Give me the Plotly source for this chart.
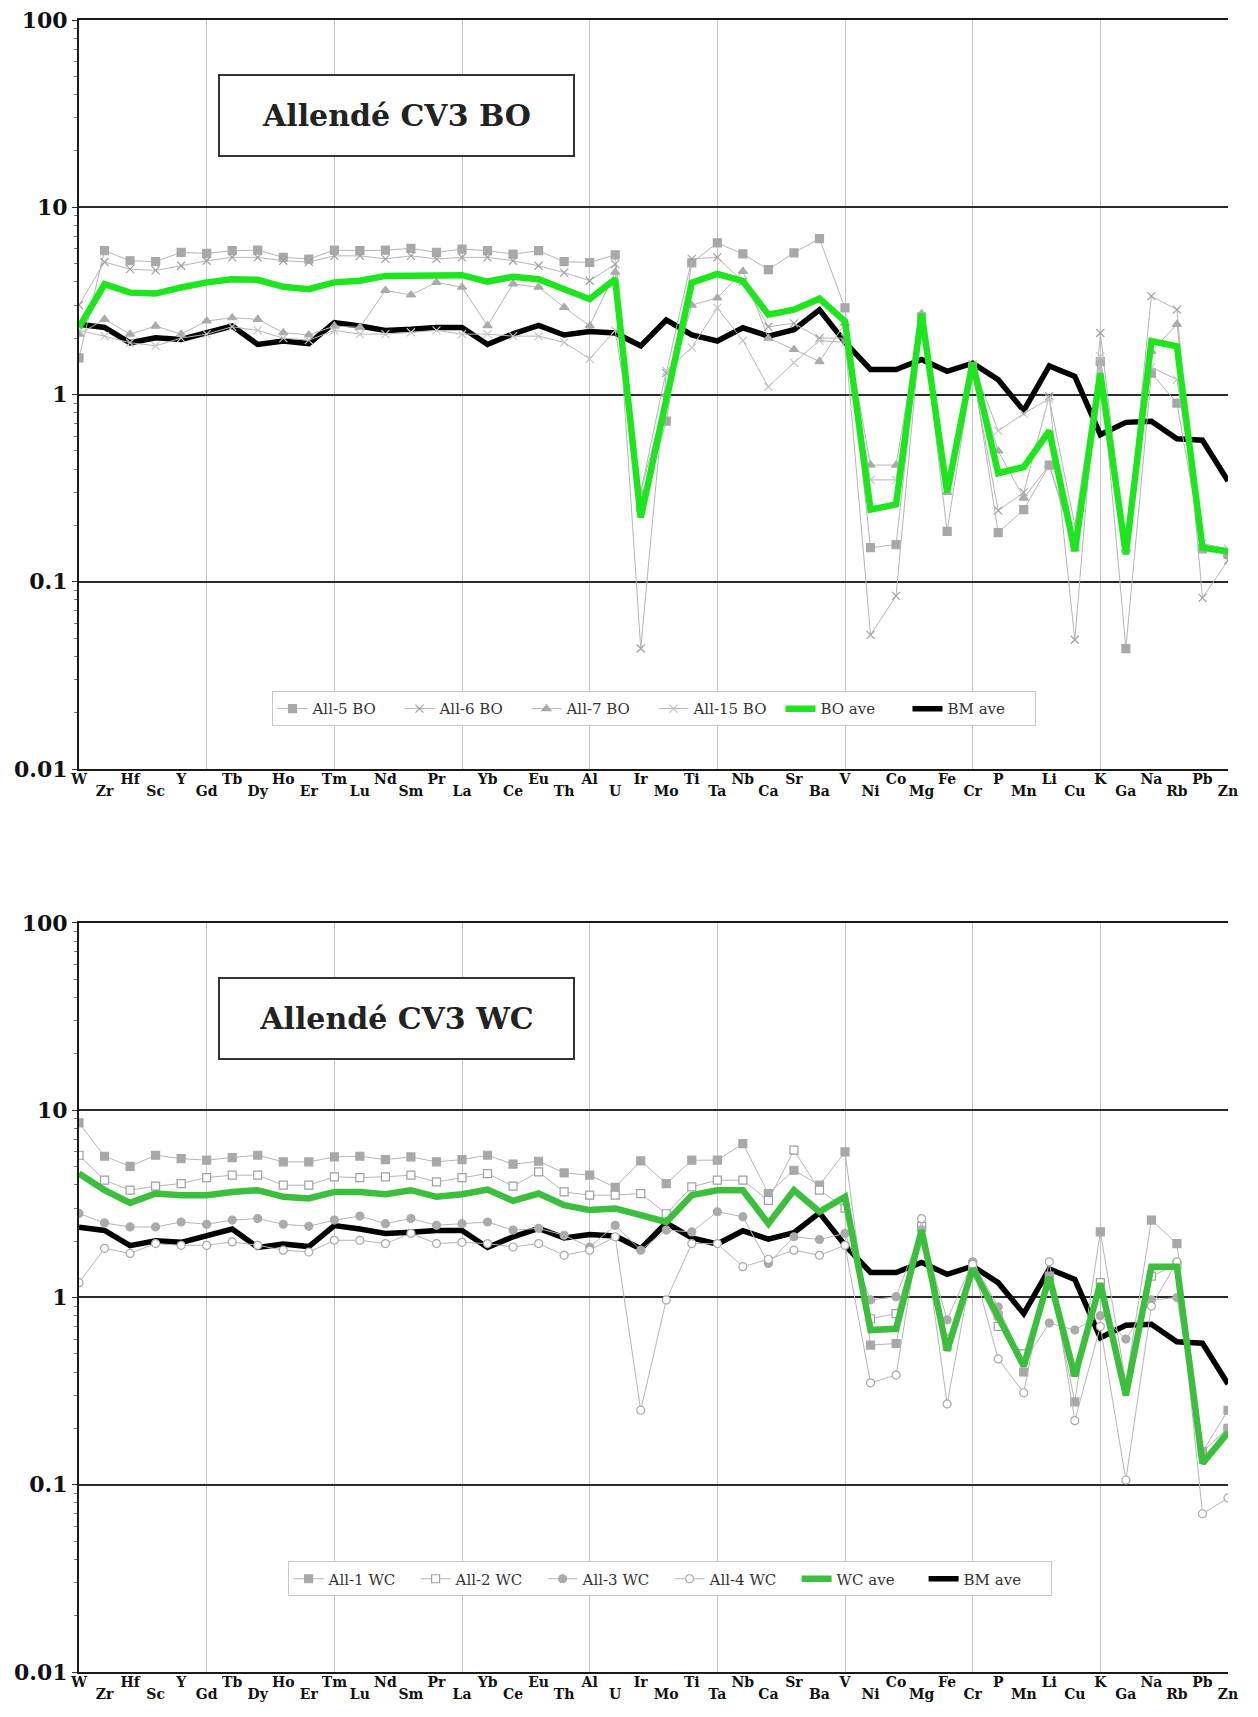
import plotly.graph_objects as go

# Element order along the x axis
elements = ["W", "Zr", "Hf", "Sc", "Y", "Gd", "Tb", "Dy", "Ho", "Er", "Tm", "Lu",
            "Nd", "Sm", "Pr", "La", "Yb", "Ce", "Eu", "Th", "Al", "U", "Ir", "Mo",
            "Ti", "Ta", "Nb", "Ca", "Sr", "Ba", "V", "Ni", "Co", "Mg", "Fe", "Cr",
            "P", "Mn", "Li", "Cu", "K", "Ga", "Na", "Rb", "Pb", "Zn"]

# Bulk-meteorite average (shown in both panels)
bm_ave = [2.37, 2.28, 1.89, 2.01, 1.97, 2.12, 2.32, 1.85, 1.93, 1.87, 2.42, 2.32,
          2.20, 2.23, 2.28, 2.28, 1.85, 2.11, 2.34, 2.08, 2.17, 2.13, 1.82, 2.50,
          2.08, 1.93, 2.27, 2.05, 2.22, 2.83, 1.90, 1.36, 1.36, 1.54, 1.33, 1.47,
          1.20, 0.82, 1.42, 1.25, 0.61, 0.71, 0.72, 0.58, 0.57, 0.345]

# Barred olivine (BO) chondrules
all5_bo = [1.57, 5.86, 5.18, 5.12, 5.74, 5.67, 5.86, 5.90, 5.40, 5.29, 5.90, 5.86,
           5.90, 6.03, 5.74, 5.98, 5.86, 5.62, 5.86, 5.12, 5.07, 5.57, 0.25, 0.72,
           5.05, 6.45, 5.63, 4.65, 5.71, 6.80, 2.90, 0.152, 0.158, 2.60, 0.186, 1.40,
           0.183, 0.243, 0.42, 0.16, 1.50, 0.044, 1.30, 0.90, 0.15, 0.14]
all6_bo = [3.00, 5.10, 4.67, 4.60, 4.87, 5.18, 5.40, 5.40, 5.18, 5.10, 5.50, 5.50,
           5.30, 5.50, 5.30, 5.40, 5.40, 5.18, 4.87, 4.48, 4.05, 4.97, 0.044, 1.30,
           5.30, 5.40, 4.00, 2.30, 2.40, 2.00, 2.00, 0.052, 0.084, 2.50, 0.35, 1.30,
           0.24, 0.30, 0.98, 0.049, 2.13, 0.15, 3.35, 2.84, 0.082, 0.13]
all7_bo = [2.10, 2.52, 2.10, 2.32, 2.10, 2.47, 2.57, 2.52, 2.14, 2.08, 2.32, 2.28,
           3.60, 3.40, 3.97, 3.74, 2.33, 3.90, 3.74, 2.92, 2.33, 4.50, 0.30, 1.00,
           3.00, 3.28, 4.55, 2.00, 1.74, 1.50, 2.40, 0.42, 0.42, 2.70, 0.30, 1.40,
           0.50, 0.28, 0.42, 0.15, 1.50, 0.15, 1.70, 2.37, 0.15, 0.14]
all15_bo = [2.20, 2.05, 1.89, 1.82, 2.00, 2.10, 2.30, 2.20, 2.00, 1.95, 2.20, 2.10,
            2.10, 2.15, 2.20, 2.10, 2.10, 2.05, 2.05, 1.90, 1.55, 2.20, 0.30, 1.34,
            1.78, 2.90, 1.94, 1.10, 1.48, 1.94, 1.90, 0.35, 0.35, 2.50, 0.35, 1.45,
            0.64, 0.79, 0.95, 0.20, 1.60, 0.15, 1.40, 1.20, 0.16, 0.15]
bo_ave = [2.28, 3.88, 3.50, 3.46, 3.73, 3.97, 4.13, 4.10, 3.76, 3.65, 3.97, 4.05,
          4.30, 4.34, 4.34, 4.34, 4.01, 4.25, 4.13, 3.65, 3.23, 4.13, 0.22, 0.94,
          3.95, 4.41, 4.03, 2.67, 2.84, 3.25, 2.46, 0.243, 0.259, 2.70, 0.30, 1.48,
          0.38, 0.41, 0.64, 0.146, 1.30, 0.14, 1.93, 1.81, 0.152, 0.145]

# White-coated (WC) chondrules
all1_wc = [8.56, 5.68, 5.02, 5.75, 5.52, 5.41, 5.59, 5.75, 5.30, 5.30, 5.63, 5.68,
           5.45, 5.63, 5.30, 5.45, 5.75, 5.15, 5.34, 4.63, 4.50, 3.87, 5.37, 4.06,
           5.41, 5.41, 6.64, 3.59, 4.78, 3.98, 5.99, 0.557, 0.568, 2.40, 0.55, 1.50,
           0.80, 0.40, 1.30, 0.277, 2.24, 0.35, 2.59, 1.94, 0.15, 0.25]
all2_wc = [5.75, 4.23, 3.74, 3.93, 4.06, 4.37, 4.50, 4.50, 3.98, 3.98, 4.41, 4.37,
           4.41, 4.50, 4.14, 4.37, 4.59, 3.93, 4.69, 3.66, 3.52, 3.52, 3.59, 2.80,
           3.90, 4.23, 4.23, 3.30, 6.12, 3.74, 3.00, 0.77, 0.82, 2.40, 0.60, 1.40,
           0.70, 0.50, 1.20, 0.40, 1.20, 0.35, 1.30, 1.50, 0.15, 0.20]
all3_wc = [2.81, 2.50, 2.38, 2.38, 2.53, 2.46, 2.59, 2.64, 2.46, 2.40, 2.59, 2.72,
           2.48, 2.64, 2.43, 2.48, 2.53, 2.29, 2.34, 2.15, 1.86, 2.43, 1.79, 2.29,
           2.24, 2.87, 2.70, 1.52, 2.11, 2.04, 2.20, 0.97, 1.01, 2.30, 0.76, 1.55,
           0.89, 0.45, 0.73, 0.67, 0.80, 0.60, 0.97, 1.00, 0.15, 0.20]
all4_wc = [1.20, 1.83, 1.72, 1.94, 1.90, 1.90, 1.98, 1.90, 1.79, 1.75, 2.02, 2.02,
           1.94, 2.20, 1.94, 1.97, 1.94, 1.86, 1.94, 1.68, 1.79, 2.11, 0.25, 0.97,
           1.94, 1.94, 1.46, 1.60, 1.79, 1.68, 1.90, 0.35, 0.385, 2.64, 0.27, 1.50,
           0.47, 0.31, 1.55, 0.22, 0.70, 0.106, 0.90, 1.55, 0.07, 0.085]
wc_ave = [4.59, 3.74, 3.20, 3.59, 3.52, 3.52, 3.66, 3.74, 3.45, 3.38, 3.66, 3.66,
          3.56, 3.74, 3.45, 3.56, 3.77, 3.28, 3.59, 3.11, 2.93, 2.99, 2.75, 2.53,
          3.52, 3.74, 3.74, 2.48, 3.74, 2.87, 3.45, 0.67, 0.68, 2.29, 0.52, 1.43,
          0.79, 0.43, 1.29, 0.38, 1.19, 0.30, 1.46, 1.46, 0.13, 0.19]

idx = list(range(len(elements)))
even_idx = idx[0::2]
odd_idx = idx[1::2]

SERIF = "Georgia, 'DejaVu Serif', serif"
GRAY_LINE = "#b5b5b5"

fig = go.Figure()


def add_panel(x_base, x_even, x_odd, ya, legend, samples, ave_name, ave_vals, ave_color):
    # Three x axes share the same range: the base one carries the grid and the
    # BM average, the overlays carry the staggered element labels and draw the
    # sample curves and the chondrule average on top.
    fig.add_trace(go.Scatter(
        x=idx, y=bm_ave, name="BM ave", mode="lines",
        line=dict(color="#000000", width=5.5),
        xaxis=x_base, yaxis=ya, legend=legend, legendrank=900))
    for rank, (name, vals, symbol, fill, edge) in enumerate(samples):
        fig.add_trace(go.Scatter(
            x=idx, y=vals, name=name, mode="lines+markers",
            line=dict(color=GRAY_LINE, width=1),
            marker=dict(symbol=symbol, size=8, color=fill,
                        line=dict(color=edge, width=1.2)),
            xaxis=x_even, yaxis=ya, legend=legend, legendrank=100 + rank))
    fig.add_trace(go.Scatter(
        x=idx, y=ave_vals, name=ave_name, mode="lines",
        line=dict(color=ave_color, width=6.5),
        xaxis=x_odd, yaxis=ya, legend=legend, legendrank=800))


add_panel("x", "x3", "x5", "y", "legend", [
    ("All-5 BO", all5_bo, "square", "#a8a8a8", "#a8a8a8"),
    ("All-6 BO", all6_bo, "x-thin", "#a0a0a0", "#a0a0a0"),
    ("All-7 BO", all7_bo, "triangle-up", "#ababab", "#ababab"),
    ("All-15 BO", all15_bo, "x-thin", "#c4c4c4", "#c4c4c4"),
], "BO ave", bo_ave, "#1ee61e")

add_panel("x2", "x4", "x6", "y2", "legend2", [
    ("All-1 WC", all1_wc, "square", "#a8a8a8", "#a8a8a8"),
    ("All-2 WC", all2_wc, "square", "#ffffff", "#a0a0a0"),
    ("All-3 WC", all3_wc, "circle", "#ababab", "#ababab"),
    ("All-4 WC", all4_wc, "circle", "#ffffff", "#a8a8a8"),
], "WC ave", wc_ave, "#3cbf3c")

TOP_DOM = [0.5466, 1.0]
BOT_DOM = [0.0, 0.4534]

y_common = dict(
    type="log", range=[-2, 2], automargin=False,
    tickmode="array", tickvals=[0.01, 0.1, 1, 10, 100],
    ticktext=["0.01", "0.1", "1", "10", "100"],
    showgrid=True, gridcolor="#2a2a2a", gridwidth=2,
    showline=True, linecolor="#1a1a1a", linewidth=2,
    ticks="outside", ticklen=5, tickcolor="#333",
    minor=dict(ticks="outside", ticklen=3, tickcolor="#777", dtick="D1", showgrid=False),
    tickfont=dict(family=SERIF, size=22, color="#111", weight="bold"),
    zeroline=False,
)

x_grid = dict(
    range=[0, 45], automargin=False,
    tickmode="array", tickvals=list(range(5, 45, 5)),
    showticklabels=False, ticks="",
    showgrid=True, gridcolor="#c4c4c4", gridwidth=1,
    showline=True, linecolor="#1a1a1a", linewidth=2, mirror=True,
    zeroline=False,
)

label_font = dict(family=SERIF, size=14, color="#111", weight="bold")


def label_axis(base, anchor, vals, standoff):
    return dict(
        overlaying=base, anchor=anchor, range=[0, 45], automargin=False,
        tickmode="array", tickvals=vals, ticktext=[elements[i] for i in vals],
        ticks="", showgrid=False, showline=False, zeroline=False,
        tickfont=label_font, ticklabelstandoff=standoff,
    )


legend_common = dict(
    orientation="h", xanchor="center", yanchor="middle",
    bgcolor="#ffffff", bordercolor="#c8c8c8", borderwidth=1,
    font=dict(family=SERIF, size=15, color="#333"),
    itemwidth=30, tracegroupgap=0, entrywidth=82,
)

fig.update_layout(
    width=1258, height=1717,
    margin=dict(l=79, r=30, t=20, b=45),
    paper_bgcolor="#ffffff", plot_bgcolor="#ffffff",
    showlegend=True,
    xaxis=dict(x_grid, anchor="y"),
    yaxis=dict(y_common, domain=TOP_DOM, anchor="x"),
    xaxis2=dict(x_grid, anchor="y2"),
    yaxis2=dict(y_common, domain=BOT_DOM, anchor="x2"),
    xaxis3=label_axis("x", "y", even_idx, 0),
    xaxis5=label_axis("x", "y", odd_idx, 12),
    xaxis4=label_axis("x2", "y2", even_idx, 0),
    xaxis6=label_axis("x2", "y2", odd_idx, 12),
    legend=dict(legend_common, x=0.5, y=0.583),
    legend2=dict(legend_common, x=0.514, y=0.0563),
)

# Panel titles in framed boxes
for title, ycen in [("Allendé CV3 BO", 0.9422), ("Allendé CV3 WC", 0.3953)]:
    fig.add_annotation(
        text=title, xref="paper", yref="paper", x=0.2763, y=ycen,
        xanchor="center", yanchor="middle", showarrow=False,
        width=353, height=79, borderpad=0,
        bordercolor="#333", borderwidth=2, bgcolor="#ffffff",
        font=dict(family=SERIF, size=30, color="#222", weight="bold"),
    )

fig.write_html("out.html")
